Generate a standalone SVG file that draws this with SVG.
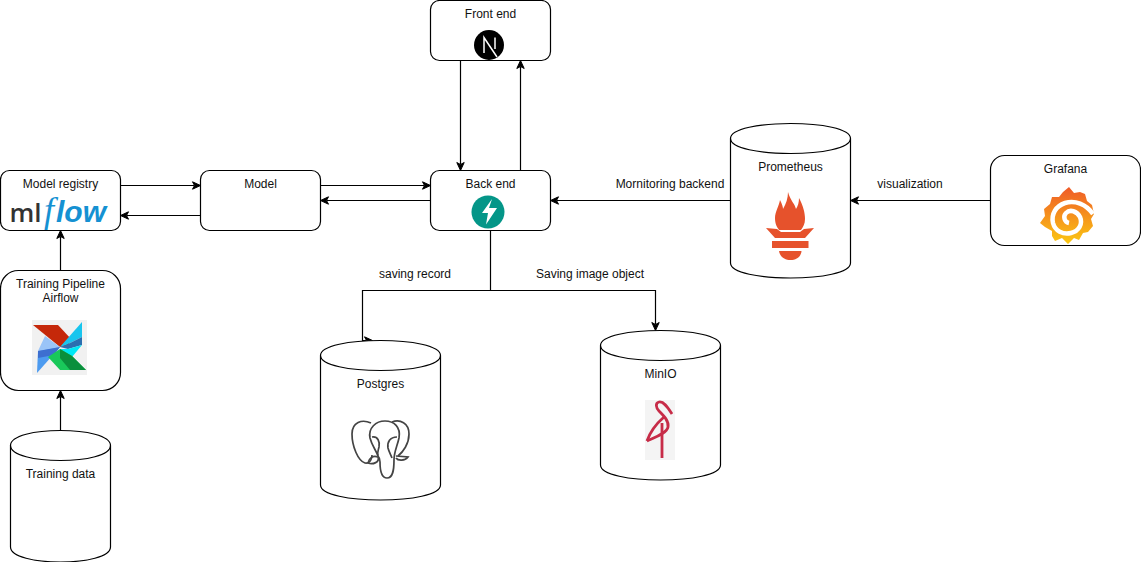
<svg xmlns="http://www.w3.org/2000/svg" width="1141" height="562" viewBox="0 0 1141 562">
<style>
.b{fill:#fff;stroke:#000;stroke-width:1.2}
.c{fill:none;stroke:#000;stroke-width:1.2}
.t{font-family:"Liberation Sans",Arial,sans-serif;font-size:12px;fill:#111;text-anchor:middle}
#connectors path{fill:none;stroke:#000;stroke-width:1.2}
.a{fill:#000;stroke:#000;stroke-width:1}
</style>
<defs>
<symbol id="head" overflow="visible"><path class="a" d="M0 0L-8-3.7L-6 0L-8 3.7Z"/></symbol>
<linearGradient id="gf" x1="0" y1="0" x2="0" y2="1"><stop offset="0" stop-color="#ef5a28"/><stop offset="1" stop-color="#fbc812"/></linearGradient>
</defs>
<rect width="1141" height="562" fill="#fff"/>
<g id="connectors">
<path d="M460.500 60.500V164"/><use href="#head" transform="translate(460.500 170.500) rotate(90)"/>
<path d="M520.500 170.500V67"/><use href="#head" transform="translate(520.500 60.500) rotate(-90)"/>
<path d="M120.500 185.500H194"/><use href="#head" transform="translate(200.500 185.500)"/>
<path d="M200.500 215.500H127"/><use href="#head" transform="translate(120.500 215.500) rotate(180)"/>
<path d="M320.500 185.500H424"/><use href="#head" transform="translate(430.500 185.500)"/>
<path d="M430.500 200.500H327"/><use href="#head" transform="translate(320.500 200.500) rotate(180)"/>
<path d="M730.500 200.500H557"/><use href="#head" transform="translate(550.500 200.500) rotate(180)"/>
<path d="M990.500 200.500H857"/><use href="#head" transform="translate(850.500 200.500) rotate(180)"/>
<path d="M60.500 270.500V237"/><use href="#head" transform="translate(60.500 230.500) rotate(-90)"/>
<path d="M60.500 430.500V397"/><use href="#head" transform="translate(60.500 390.500) rotate(-90)"/>
<path d="M490.500 230.500V290.500H362.500V340.500H366"/><use href="#head" transform="translate(372.500 340.500)"/>
<path d="M490.500 290.500H655.500V324"/><use href="#head" transform="translate(655.500 330.500) rotate(90)"/>
<text class="t" x="670" y="188">Mornitoring backend</text>
<text class="t" x="910" y="188">visualization</text>
<text class="t" x="415" y="278">saving record</text>
<text class="t" x="590" y="278">Saving image object</text>
</g>
<g id="front-end">
<rect class="b" x="430.500" y="0.500" width="120" height="60" rx="9"/>
<text class="t" x="490.500" y="18">Front end</text>
<circle cx="489" cy="45" r="15" fill="#000"/>
<path d="M484 53V37.500L497 57" fill="none" stroke="#fff" stroke-width="1.500"/>
<path d="M495 37.500V49" fill="none" stroke="#fff" stroke-width="1.500"/>
</g>
<g id="back-end">
<rect class="b" x="430.500" y="170.500" width="120" height="60" rx="9"/>
<text class="t" x="490.500" y="188">Back end</text>
<circle cx="488" cy="212" r="16.500" fill="#049688"/>
<path d="M492 199L482 213H488L486 224.500L497 208H489Z" fill="#fff"/>
</g>
<g id="model">
<rect class="b" x="200.500" y="170.500" width="120" height="60" rx="9"/>
<text class="t" x="260.500" y="188">Model</text>
</g>
<g id="model-registry">
<rect class="b" x="0.500" y="170.500" width="120" height="60" rx="9"/>
<text class="t" x="60.500" y="188">Model registry</text>
<text y="222"><tspan x="9.500" font-family="'Open Sans','Liberation Sans',sans-serif" font-size="26" font-weight="600" fill="#333">ml</tspan><tspan x="44" font-family="'Liberation Serif',serif" font-size="36" font-style="italic" fill="#1591d2">f</tspan><tspan x="56" font-family="'Liberation Sans',sans-serif" font-size="30" font-style="italic" font-weight="700" fill="#1591d2">low</tspan></text>
</g>
<g id="training-pipeline">
<rect class="b" x="0.500" y="270.500" width="120" height="120" rx="18"/>
<text class="t" x="60.500" y="288">Training Pipeline</text>
<text class="t" x="60.500" y="302">Airflow</text>
<rect x="32" y="320" width="55" height="55" fill="#f1f1f1"/>
<path d="M33 325H58L72 340L67 346L60 347Z" fill="#c5280a"/>
<path d="M60 347L45 336L38 351Z" fill="#9ac4f8"/>
<path d="M60 347L38 351L37 373Z" fill="#4d9bf0"/>
<path d="M60 347L38 351V358L54 355Z" fill="#3d6fd0"/>
<path d="M60 347L82 322V337L66 345Z" fill="#18c5ee"/>
<path d="M60 347L66 345L82 337V345L68 349Z" fill="#2b6fb0"/>
<path d="M60 349L68 349L82 345L72 357L64 355Z" fill="#00e8f5"/>
<path d="M60 349L48 357L60 370H86L72 356Z" fill="#19c85a"/>
<path d="M60 349L72 356L86 370H70L60 358Z" fill="#0a8f3c"/>
</g>
<g id="training-data">
<path class="b" d="M10.500 445.500C10.500 425.500 110.500 425.500 110.500 445.500V547C110.500 567 10.500 567 10.500 547Z"/>
<path class="c" d="M10.500 445.500C10.500 465.500 110.500 465.500 110.500 445.500"/>
<text class="t" x="60.500" y="478">Training data</text>
</g>
<g id="prometheus">
<path class="b" d="M730.500 138.500C730.500 118.500 850.500 118.500 850.500 138.500V263C850.500 283 730.500 283 730.500 263Z"/>
<path class="c" d="M730.500 138.500C730.500 158.500 850.500 158.500 850.500 138.500"/>
<text class="t" x="790.500" y="171">Prometheus</text>
<path d="M788 192C790 200 795 204 796 209C798 206 799 202 799 198C803 205 805 213 805 219C805 224 803 227 801 230H779C777 227 775 224 775 218C775 212 779 206 780 200C782 204 783 207 783 209C786 204 788 198 788 192Z" fill="#e6522c"/>
<path d="M766 228L777 229L781 232H800L804 229L814 228L805 238H775Z" fill="#e6522c"/>
<rect x="772" y="241" width="36.500" height="7" fill="#e6522c"/>
<path d="M779 251H801.500C801 257 796 260 790.500 260C785 260 780 257 779 251Z" fill="#e6522c"/>
</g>
<g id="grafana">
<rect class="b" x="990.500" y="155.500" width="150" height="90" rx="14"/>
<text class="t" x="1065.500" y="173">Grafana</text>
<path fill="url(#gf)" d="M1069 187L1074 193L1080 192L1085 194L1087 201L1092 205L1094 214L1091 219L1093 226L1088 232L1083 233L1079 240L1074 238L1068 244L1062 238L1055 241L1052 236L1052 231L1045 227L1040 223L1045 216L1044 209L1050 204L1052 197L1059 197L1063 192Z"/>
<path fill="none" stroke="#fff" stroke-width="4.500" d="M1093 214C1086 204 1075 200 1065 203C1056 206 1051 214 1053 223C1055 231 1063 235 1071 233C1079 231 1083 224 1080 217C1077 211 1070 209 1066 213C1063 216 1064 222 1069 223"/>
</g>
<g id="postgres">
<path class="b" d="M320.500 355.500C320.500 335.500 440.500 335.500 440.500 355.500V485C440.500 505 320.500 505 320.500 485Z"/>
<path class="c" d="M320.500 355.500C320.500 375.500 440.500 375.500 440.500 355.500"/>
<text class="t" x="380.500" y="388">Postgres</text>
<g fill="none" stroke="#444" stroke-width="1.700">
<path d="M371 423C362 419 352 422 352 434C352 446 358 461 365 463C370 464 372 459 372 455"/>
<path d="M378 456C376 450 372 446 370 438C368 428 376 421 385 421C394 421 401 427 399 438C397 447 394 452 394 460C394 470 393 478 387 478C381 478 380 470 380 462C380 459 379 457 378 456Z"/>
<path d="M392 422C400 419 409 423 409 434C409 444 403 452 398 456"/>
<path d="M372 437C378 436 380 442 379 447C378 451 377 453 378 456"/>
<path d="M397 437C390 437 387 442 388 448C389 452 391 455 392 458"/>
<path d="M368 463C373 465 380 462 378 457C373 455 369 458 368 463Z"/>
<path d="M396 456L408 457C405 461 398 461 396 458"/>
</g>
</g>
<g id="minio">
<path class="b" d="M600.500 345.500C600.500 325.500 720.500 325.500 720.500 345.500V465C720.500 485 600.500 485 600.500 465Z"/>
<path class="c" d="M600.500 345.500C600.500 365.500 720.500 365.500 720.500 345.500"/>
<text class="t" x="660.500" y="378">MinIO</text>
<rect x="645" y="400" width="30" height="60" fill="#f4f4f4"/>
<g fill="none" stroke="#c72c48" stroke-width="2.800">
<path d="M672 414C668 408 664 401 659 402C655 403 656 408 659 411C664 416 669 421 668 427C667 433 656 437 647 441"/>
<path d="M647 441C650 432 656 424 664 417"/>
<path d="M662 423V458"/>
</g>
</g>
</svg>
